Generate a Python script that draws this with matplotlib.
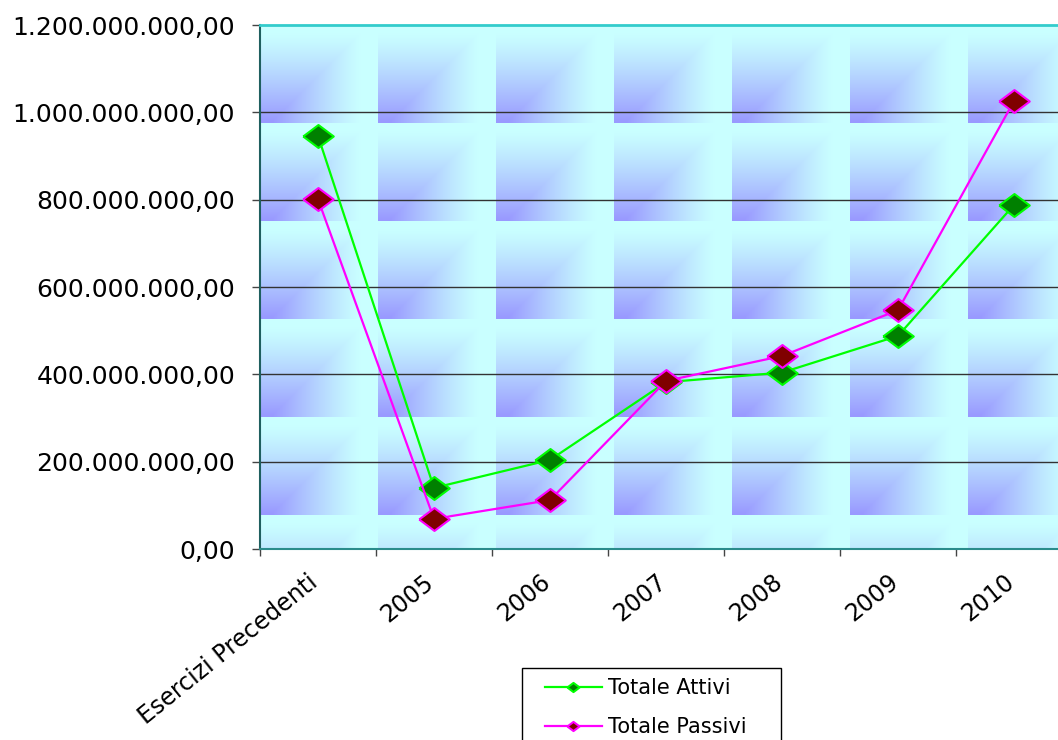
import numpy as np
import matplotlib
matplotlib.use('Agg')
import matplotlib.pyplot as plt
from matplotlib.patches import Rectangle
from matplotlib.ticker import FuncFormatter, FixedLocator

# data
categories = ['Esercizi Precedenti', '2005', '2006', '2007', '2008', '2009', '2010']
totale_attivi = [946e6, 140e6, 204e6, 382e6, 404e6, 488e6, 788e6]
totale_passivi = [801e6, 69e6, 112e6, 385e6, 442e6, 547e6, 1026e6]
y_ticks = [0, 200e6, 400e6, 600e6, 800e6, 1000e6, 1200e6]

plt.rcParams['font.family'] = ['DejaVu Sans']

fig = plt.figure(figsize=(10.58, 7.40), dpi=100)
fig.patch.set_facecolor('white')

# axes runs off the right edge of the picture, like the original
ax = fig.add_axes([260 / 1058, 1 - 549 / 740, 812 / 1058, 524 / 740])

# tiled background (cyan with purple bottom-left corner), 118 x 98 px tiles
W, H = 812, 524
tw, th = 118, 98
u = (np.arange(W) % tw) / tw
v = (np.arange(H) % th) / th
U, V = np.meshgrid(u, v)
a = (V - 0.08) / 0.9
b = (0.85 - U) / 0.75
w = np.clip(np.minimum(a, b), 0, 1)[..., None] ** 1.2
cyan = np.array([0.79, 1.0, 1.0])
purple = np.array([0.60, 0.60, 1.0])
img = cyan * (1 - w) + purple * w
ax.imshow(img, extent=(0, 7, 0, 1.2e9), aspect='auto', origin='upper',
          zorder=0, interpolation='nearest')

x = np.arange(len(categories)) + 0.5

diamond = [(-1, 0), (0, 0.75), (1, 0), (0, -0.75), (-1, 0)]

ax.plot(x, totale_attivi, color='#00ff00', lw=1.6, marker=diamond, ms=22,
        mfc='#008000', mec='#00ff00', mew=1.5, zorder=3, label='Totale Attivi')
ax.plot(x, totale_passivi, color='#ff00ff', lw=1.6, marker=diamond, ms=22,
        mfc='#800000', mec='#ff00ff', mew=1.5, zorder=4, label='Totale Passivi')

ax.set_xlim(0, 7)
ax.set_ylim(0, 1.2e9)

# gridlines
for yv in y_ticks[1:-1]:
    ax.axhline(yv, color='#333333', lw=1, zorder=1)

ax.set_yticks(y_ticks)
ax.yaxis.set_major_formatter(FuncFormatter(
    lambda val, pos: f"{val:,.2f}".replace(',', 'X').replace('.', ',').replace('X', '.')))
ax.tick_params(axis='y', direction='out', length=6, width=1, color='#444444',
               labelsize=18, pad=12)

ax.xaxis.set_major_locator(FixedLocator(range(0, 8)))
ax.xaxis.set_minor_locator(FixedLocator(x + 0.04))
ax.set_xticklabels([], minor=False)
ax.set_xticklabels(categories, minor=True, rotation=39, ha='right', va='top')
ax.tick_params(axis='x', which='major', direction='out', length=5, width=1, color='#444444')
ax.tick_params(axis='x', which='minor', length=0, labelsize=17, pad=15)

ax.spines['top'].set_color('#33cccc')
ax.spines['top'].set_linewidth(2)
ax.spines['left'].set_color('#1f5f5f')
ax.spines['left'].set_linewidth(1.5)
ax.spines['bottom'].set_color('#2a8c8c')
ax.spines['bottom'].set_linewidth(1.5)
ax.spines['right'].set_visible(False)

# legend box at the bottom, partly cut off
frame = Rectangle((522 / 1058, -10 / 740), (781 - 522) / 1058, (740 - 668 + 10) / 740,
                  transform=fig.transFigure, facecolor='white', edgecolor='black',
                  lw=1, zorder=5)
fig.patches.append(frame)
leg = fig.legend(loc='upper left', bbox_to_anchor=(537 / 1058, 1 - 670 / 740),
                 fontsize=15, frameon=False, handlelength=2.7, handletextpad=0.3,
                 markerscale=0.4, labelspacing=0.9, borderpad=0.4, borderaxespad=0)
leg.set_zorder(6)

plt.savefig('out.png', dpi=100, facecolor='white')
